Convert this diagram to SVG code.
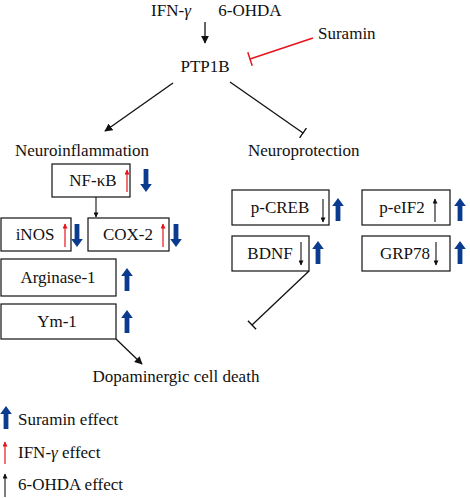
<svg xmlns="http://www.w3.org/2000/svg" width="470" height="498" viewBox="0 0 470 498">
<style>
text{font-family:"Liberation Serif","Times New Roman",serif;font-size:17px;fill:#111}
.c{text-anchor:middle}
.box{fill:#fff;stroke:#111;stroke-width:1.2}
.ln{stroke:#111;stroke-width:1.3;fill:none}
.rl{stroke:#e8141b;stroke-width:1.4;fill:none}
.sm{stroke:#111;stroke-width:1.1;fill:none}
.sr{stroke:#e8141b;stroke-width:1.2;fill:none}
.blue{fill:#0b3b8f}
</style>
<defs>
<marker id="ah" viewBox="0 0 10 10" refX="9" refY="5" markerWidth="8" markerHeight="8" markerUnits="userSpaceOnUse" orient="auto"><path d="M0,0 L10,5 L0,10 Z" fill="#111"/></marker>
<marker id="tee" viewBox="-1 -6 2 12" refX="0" refY="0" markerWidth="2" markerHeight="12" markerUnits="userSpaceOnUse" orient="auto"><path d="M0,-6 L0,6" stroke="#111" stroke-width="1.4"/></marker>
<marker id="teer" viewBox="-1 -7 2 14" refX="0" refY="0" markerWidth="2" markerHeight="14" markerUnits="userSpaceOnUse" orient="auto"><path d="M0,-7 L0,7" stroke="#e8141b" stroke-width="1.5"/></marker>
<marker id="sa" viewBox="0 0 10 10" refX="9" refY="5" markerWidth="7" markerHeight="5" markerUnits="userSpaceOnUse" orient="auto"><path d="M0,0 L10,5 L0,10 Z" fill="#111"/></marker>
<marker id="sar" viewBox="0 0 10 10" refX="9" refY="5" markerWidth="7" markerHeight="5" markerUnits="userSpaceOnUse" orient="auto"><path d="M0,0 L10,5 L0,10 Z" fill="#e8141b"/></marker>
<path id="bu" d="M0,-12 L5.8,-4 L2.4,-4 L2.4,11 L-2.4,11 L-2.4,-4 L-5.8,-4 Z"/>
<path id="bd" d="M0,12 L5.8,4 L2.4,4 L2.4,-11 L-2.4,-11 L-2.4,4 L-5.8,4 Z"/>
</defs>

<g id="connectors">
<line class="ln" x1="205" y1="22" x2="205" y2="43" marker-end="url(#ah)"/>
<line class="rl" x1="313" y1="38" x2="250" y2="59" marker-end="url(#teer)"/>
<line class="ln" x1="173" y1="83" x2="105" y2="131" marker-end="url(#ah)"/>
<line class="ln" x1="230" y1="82" x2="303" y2="133" marker-end="url(#tee)"/>
<line class="sm" x1="96" y1="197" x2="96" y2="217" marker-end="url(#sa)"/>
<line class="ln" x1="116" y1="339" x2="142" y2="364" marker-end="url(#ah)"/>
<line class="ln" x1="309" y1="271" x2="252" y2="325" marker-end="url(#tee)"/>
</g>

<g id="IFN"><text x="171" y="16" class="c">IFN-<tspan font-style="italic">γ</tspan></text></g>
<g id="OHDA"><text x="250" y="16" class="c">6-OHDA</text></g>
<g id="Suramin"><text x="318" y="39">Suramin</text></g>
<g id="PTP1B"><text x="205" y="72" class="c">PTP1B</text></g>
<g id="Neuroinflammation"><text x="15" y="156">Neuroinflammation</text></g>
<g id="Neuroprotection"><text x="248" y="156">Neuroprotection</text></g>

<g id="NFkB">
<rect class="box" x="52" y="164" width="78" height="33"/>
<text x="93" y="186" class="c">NF-κB</text>
<line class="sr" x1="127" y1="192" x2="127" y2="170" marker-end="url(#sar)"/>
<use href="#bd" x="146" y="180" class="blue"/>
</g>
<g id="iNOS">
<rect class="box" x="1" y="218" width="70" height="33"/>
<text x="35" y="240" class="c">iNOS</text>
<line class="sr" x1="65" y1="247" x2="65" y2="224" marker-end="url(#sar)"/>
<use href="#bd" x="77" y="235" class="blue"/>
</g>
<g id="COX2">
<rect class="box" x="88" y="218" width="81" height="33"/>
<text x="128" y="240" class="c">COX-2</text>
<line class="sr" x1="163" y1="247" x2="163" y2="224" marker-end="url(#sar)"/>
<use href="#bd" x="176" y="235" class="blue"/>
</g>
<g id="Arginase1">
<rect class="box" x="1" y="259" width="115" height="37"/>
<text x="58" y="283" class="c">Arginase-1</text>
<use href="#bu" x="127" y="280" class="blue"/>
</g>
<g id="Ym1">
<rect class="box" x="1" y="304" width="115" height="35"/>
<text x="57" y="327" class="c">Ym-1</text>
<use href="#bu" x="127" y="322" class="blue"/>
</g>
<g id="pCREB">
<rect class="box" x="232" y="190" width="97" height="35"/>
<text x="280" y="213" class="c">p-CREB</text>
<line class="sm" x1="323" y1="199" x2="323" y2="222" marker-end="url(#sa)"/>
<use href="#bu" x="338" y="210" class="blue"/>
</g>
<g id="BDNF">
<rect class="box" x="232" y="236" width="77" height="35"/>
<text x="270" y="259" class="c">BDNF</text>
<line class="sm" x1="301" y1="242" x2="301" y2="265" marker-end="url(#sa)"/>
<use href="#bu" x="318" y="253" class="blue"/>
</g>
<g id="peIF2">
<rect class="box" x="362" y="190" width="88" height="35"/>
<text x="402" y="213" class="c">p-eIF2</text>
<line class="sm" x1="435" y1="222" x2="435" y2="199" marker-end="url(#sa)"/>
<use href="#bu" x="460" y="210" class="blue"/>
</g>
<g id="GRP78">
<rect class="box" x="362" y="236" width="88" height="35"/>
<text x="405" y="259" class="c">GRP78</text>
<line class="sm" x1="436" y1="242" x2="436" y2="265" marker-end="url(#sa)"/>
<use href="#bu" x="460" y="253" class="blue"/>
</g>
<g id="DopaminergicCellDeath"><text x="176" y="382" class="c">Dopaminergic cell death</text></g>

<g id="legend">
<use href="#bu" x="6" y="418" class="blue"/>
<text x="18" y="425">Suramin effect</text>
<line class="sr" x1="5" y1="464" x2="5" y2="442" marker-end="url(#sar)"/>
<text x="18" y="458">IFN-<tspan font-style="italic">γ</tspan> effect</text>
<line class="sm" x1="5" y1="497" x2="5" y2="474" marker-end="url(#sa)"/>
<text x="18" y="490">6-OHDA effect</text>
</g>
</svg>
